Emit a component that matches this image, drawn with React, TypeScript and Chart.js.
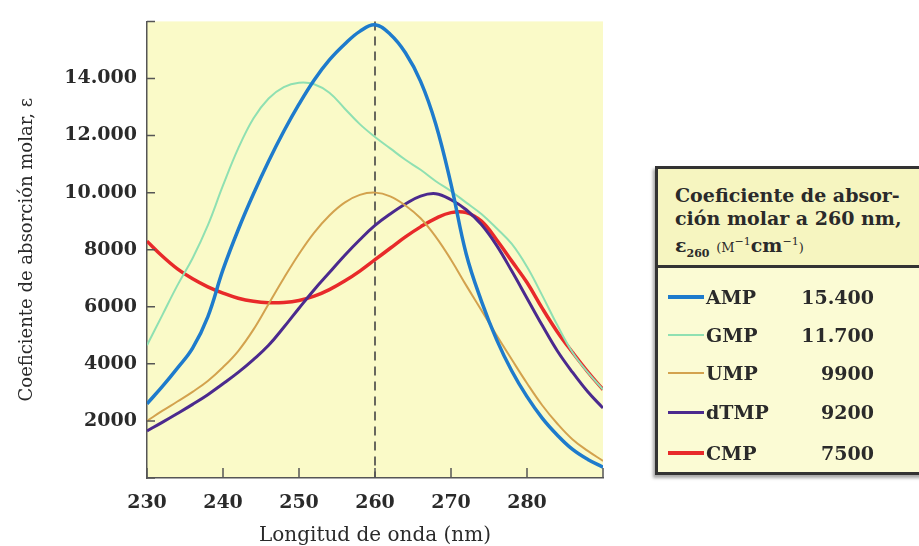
import React, { useEffect, useRef } from 'react';
import { Chart, registerables } from 'chart.js';
Chart.register(...registerables);

const wavelengths = [230, 232, 234, 236, 238, 240, 242, 244, 246, 248, 250, 252, 254, 256, 258, 260, 262, 264, 266, 268, 270, 272, 274, 276, 278, 280, 282, 284, 286, 288, 290];
const seriesNames = ['AMP', 'GMP', 'UMP', 'dTMP', 'CMP'];
const amp = [2600, 3200, 3850, 4550, 5650, 7300, 8700, 9950, 11100, 12150, 13100, 13950, 14650, 15200, 15650, 15880, 15550, 14900, 13900, 12400, 10300, 7850, 6200, 4850, 3750, 2850, 2100, 1500, 1000, 650, 380];
const gmp = [4650, 5700, 6750, 7700, 8850, 10250, 11550, 12600, 13300, 13700, 13850, 13800, 13500, 12950, 12400, 11950, 11550, 11150, 10800, 10400, 10050, 9650, 9250, 8750, 8200, 7400, 6400, 5350, 4400, 3700, 3100];
const ump = [2000, 2350, 2680, 3020, 3400, 3880, 4450, 5200, 6100, 7000, 7850, 8600, 9200, 9650, 9920, 10000, 9870, 9550, 9100, 8450, 7650, 6750, 5880, 5000, 4150, 3320, 2550, 1900, 1350, 950, 600];
const dtmp = [1650, 1950, 2260, 2580, 2920, 3300, 3700, 4150, 4650, 5280, 5950, 6600, 7200, 7800, 8350, 8850, 9250, 9600, 9880, 9960, 9750, 9400, 8880, 8150, 7250, 6300, 5350, 4450, 3700, 3020, 2450];
const cmp = [8300, 7780, 7330, 6980, 6700, 6480, 6300, 6190, 6140, 6150, 6220, 6370, 6600, 6900, 7250, 7650, 8050, 8450, 8800, 9100, 9300, 9300, 9000, 8350, 7600, 6850, 5950, 5120, 4400, 3720, 3100];
const eps260 = [15400, 11700, 9900, 9200, 7500];
const xTickValues = [230, 240, 250, 260, 270, 280, 290];
const xTickLabels = ['230', '240', '250', '260', '270', '280', ''];
const yTickValues = [0, 2000, 4000, 6000, 8000, 10000, 12000, 14000, 16000];
const yTickLabels = ['', '2000', '4000', '6000', '8000', '10.000', '12.000', '14.000', ''];
const markerWavelength = 260;

const seriesValues = [amp, gmp, ump, dtmp, cmp];
const colors = ['#1e7bcc', '#8fe0b2', '#d3a24e', '#4b2a8e', '#e82a2a'];
const widths = [3.5, 2, 2, 3, 3.5];
const FONT = '"DejaVu Serif", serif';

function fmt(v: number) {
  return v >= 10000 ? `${Math.floor(v / 1000)}.${String(v % 1000).padStart(3, '0')}` : String(v);
}

const decorPlugin = {
  id: 'decor',
  beforeDraw(chart: any) {
    const { ctx, chartArea } = chart;
    ctx.save();
    ctx.fillStyle = '#fafac8';
    ctx.fillRect(chartArea.left, chartArea.top, chartArea.right - chartArea.left, chartArea.bottom - chartArea.top);
    ctx.restore();
  },
  beforeDatasetsDraw(chart: any) {
    const { ctx, chartArea, scales } = chart;
    const x = scales.x.getPixelForValue(markerWavelength);
    ctx.save();
    ctx.strokeStyle = '#444';
    ctx.lineWidth = 1.6;
    ctx.setLineDash([9, 6]);
    ctx.beginPath();
    ctx.moveTo(x, chartArea.top);
    ctx.lineTo(x, chartArea.bottom);
    ctx.stroke();
    ctx.restore();
  },
  afterDraw(chart: any) {
    const { ctx, chartArea, scales } = chart;
    ctx.save();
    ctx.strokeStyle = '#555';
    ctx.lineWidth = 1.5;
    ctx.beginPath();
    for (const v of yTickValues) {
      const y = scales.y.getPixelForValue(v);
      ctx.moveTo(chartArea.left, y);
      ctx.lineTo(chartArea.left + 8, y);
    }
    for (const v of xTickValues) {
      const x = scales.x.getPixelForValue(v);
      ctx.moveTo(x, chartArea.bottom);
      ctx.lineTo(x, chartArea.bottom - 10);
    }
    ctx.stroke();
    ctx.restore();
  },
};

function ChartCanvas() {
  const ref = useRef<HTMLCanvasElement | null>(null);
  useEffect(() => {
    if (!ref.current) return;
    const chart = new Chart(ref.current, {
      type: 'line',
      data: {
        datasets: seriesNames.map((name, i) => ({
          label: name,
          data: wavelengths.map((w, j) => ({ x: w, y: seriesValues[i][j] })),
          borderColor: colors[i],
          borderWidth: widths[i],
          pointRadius: 0,
          fill: false,
          tension: 0.4,
        })),
      },
      options: {
        responsive: false,
        animation: false,
        layout: { padding: { top: 15, right: 316, left: 0, bottom: 0 } },
        plugins: { legend: { display: false }, tooltip: { enabled: false } },
        scales: {
          x: {
            type: 'linear',
            min: 230,
            max: 290,
            afterBuildTicks: (s: any) => { s.ticks = xTickValues.map((v) => ({ value: v })); },
            afterFit: (s: any) => { s.height = 68; },
            grid: { display: false, drawTicks: false },
            border: { display: true, color: '#555', width: 1.5 },
            ticks: {
              padding: 14,
              maxRotation: 0,
              autoSkip: false,
              color: '#2a2a2a',
              font: { family: FONT, size: 19, weight: 'bold' },
              callback: (v: any) => xTickLabels[xTickValues.indexOf(Number(v))] ?? '',
            },
            title: {
              display: true,
              text: 'Longitud de onda (nm)',
              color: '#2a2a2a',
              font: { family: FONT, size: 20, lineHeight: 1 },
              padding: { top: 0, bottom: 0 },
            },
          },
          y: {
            min: 0,
            max: 16000,
            afterBuildTicks: (s: any) => { s.ticks = yTickValues.map((v) => ({ value: v })); },
            afterFit: (s: any) => { s.width = 147; },
            grid: { display: false, drawTicks: false },
            border: { display: true, color: '#555', width: 1.5 },
            ticks: {
              padding: 10,
              autoSkip: false,
              color: '#2a2a2a',
              font: { family: FONT, size: 19, weight: 'bold' },
              callback: (v: any) => yTickLabels[yTickValues.indexOf(Number(v))] ?? '',
            },
            title: {
              display: true,
              text: 'Coeficiente de absorción molar, ε',
              color: '#2a2a2a',
              font: { family: FONT, size: 18, lineHeight: 1 },
              padding: { top: 18, bottom: 0 },
            },
          },
        },
      },
      plugins: [decorPlugin],
    });
    return () => chart.destroy();
  }, []);
  return <canvas ref={ref} width={919} height={546} style={{ position: 'absolute', left: 0, top: 0, width: 919, height: 546 }} />;
}

const rowCenters = [131, 169, 207, 246, 287];

export default function App() {
  return (
    <div style={{ position: 'absolute', left: 0, top: 0, width: 919, height: 546, overflow: 'hidden', background: '#fff', fontFamily: FONT, color: '#2a2a2a' }}>
      <ChartCanvas />
      <div style={{ position: 'absolute', left: 655, top: 166, width: 300, height: 309, boxSizing: 'border-box', border: '3px solid #333', background: '#fbfbd4', boxShadow: '-2px 3px 3px rgba(0,0,0,0.35)' }}>
        <div style={{ position: 'absolute', left: 0, top: 0, right: 0, height: 96, background: '#f6f5c0', borderBottom: '3px solid #333' }}>
          <div style={{ position: 'absolute', left: 17, top: 15, fontSize: 19, fontWeight: 'bold', lineHeight: '23px', whiteSpace: 'nowrap' }}>
            <div>Coeficiente de absor-</div>
            <div>ción molar a 260 nm,</div>
            <div>
              ε<sub style={{ fontSize: 11 }}>260</sub> <span style={{ fontSize: 13, fontWeight: 'normal' }}>(M</span><sup style={{ fontSize: 11, fontWeight: 'normal' }}>−1</sup>cm<sup style={{ fontSize: 11, fontWeight: 'normal' }}>−1</sup><span style={{ fontSize: 13, fontWeight: 'normal' }}>)</span>
            </div>
          </div>
        </div>
        {seriesNames.map((name, i) => (
          <div key={name} style={{ position: 'absolute', left: 0, top: rowCenters[i] - 3 - 13, height: 26, width: 220 }}>
            <div style={{ position: 'absolute', left: 10, top: 13 - widths[i] / 2, width: 36, height: widths[i], background: colors[i] }} />
            <div style={{ position: 'absolute', left: 48, top: 0, fontSize: 19, fontWeight: 'bold', lineHeight: '26px' }}>{name}</div>
            <div style={{ position: 'absolute', right: 4, top: 0, fontSize: 19, fontWeight: 'bold', lineHeight: '26px', textAlign: 'right' }}>{fmt(eps260[i])}</div>
          </div>
        ))}
      </div>
    </div>
  );
}
